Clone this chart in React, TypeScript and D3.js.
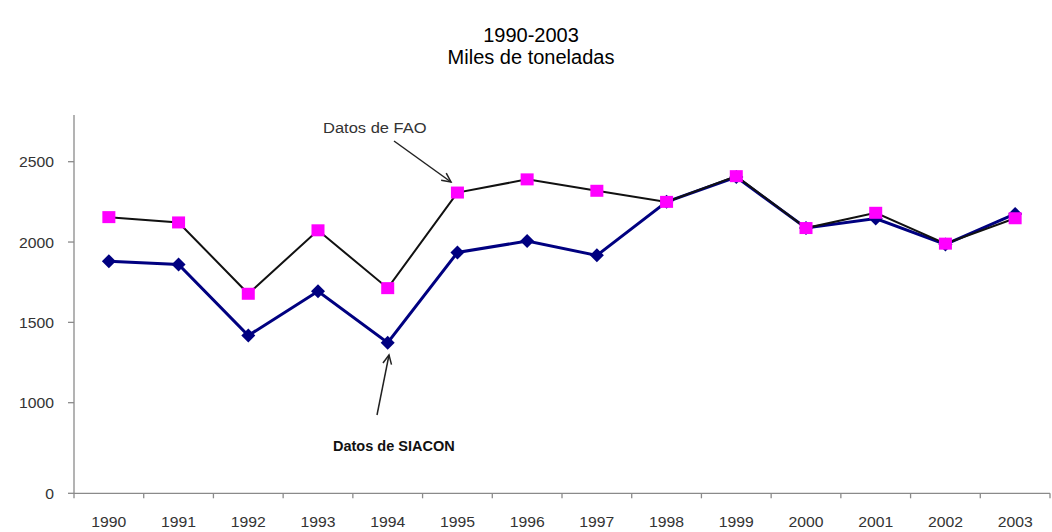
import React from "react";
import * as d3 from "d3";

const years = ["1990","1991","1992","1993","1994","1995","1996","1997","1998","1999","2000","2001","2002","2003"];
const faoValues = [2155, 2122, 1678, 2073, 1713, 2308, 2390, 2319, 2250, 2410, 2087, 2182, 1990, 2148];
const siaconValues = [1880, 1860, 1418, 1694, 1373, 1935, 2006, 1917, 2250, 2405, 2087, 2146, 1985, 2175];
const yTicks = [0, 1000, 1500, 2000, 2500];
const titleLines = ["1990-2003", "Miles de toneladas"];
const faoLabel = "Datos de FAO";
const siaconLabel = "Datos de SIACON";

const W = 1052;
const H = 532;
const FONT = "Arial, 'Liberation Sans', Helvetica, sans-serif";

export default function App() {
  const x = d3.scaleBand<string>().domain(years).range([74, 1050]).padding(0);
  const cx = (d: string) => (x(d) as number) + x.bandwidth() / 2;
  // broken value axis: 0 sits close under 1000
  const y = d3.scaleLinear().domain([0, 1000, 2500]).range([493.3, 402.7, 161.7]);

  const lineGen = d3
    .line<number>()
    .x((_, i) => cx(years[i]))
    .y((v) => y(v));

  const axisColor = "#8a8a8a";
  const boundaries = years.map((d) => x(d) as number).concat([1050]);

  const arrow = (x1: number, y1: number, x2: number, y2: number) => {
    const ang = Math.atan2(y2 - y1, x2 - x1);
    const L = 10;
    const a1 = ang + Math.PI - 0.45;
    const a2 = ang + Math.PI + 0.45;
    return (
      <g stroke="#222" strokeWidth={1.5} fill="none">
        <line x1={x1} y1={y1} x2={x2} y2={y2} />
        <polyline
          points={`${x2 + L * Math.cos(a1)},${y2 + L * Math.sin(a1)} ${x2},${y2} ${x2 + L * Math.cos(a2)},${y2 + L * Math.sin(a2)}`}
        />
      </g>
    );
  };

  return (
    <div style={{ position: "absolute", left: 0, top: 0 }}>
      <svg width={W} height={H} style={{ display: "block", background: "#fff" }} fontFamily={FONT}>
        {/* title */}
        <text x={531} y={42} textAnchor="middle" fontSize={20} fill="#000">
          {titleLines[0]}
        </text>
        <text x={531} y={64} textAnchor="middle" fontSize={20} fill="#000">
          {titleLines[1]}
        </text>

        {/* y axis */}
        <line x1={74} x2={74} y1={y(2790)} y2={y(0)} stroke={axisColor} strokeWidth={1.3} />
        {yTicks.map((t) => (
          <g key={t}>
            <line x1={68} x2={74} y1={y(t)} y2={y(t)} stroke={axisColor} strokeWidth={1.3} />
            <text
              transform={`translate(54,${y(t) + 5.5}) scale(1.05,1)`}
              textAnchor="end"
              fontSize={15}
              fill="#333"
            >
              {t}
            </text>
          </g>
        ))}

        {/* x axis */}
        <line x1={74} x2={1050} y1={y(0)} y2={y(0)} stroke={axisColor} strokeWidth={1.3} />
        {boundaries.map((b, i) => (
          <line key={i} x1={b} x2={b} y1={y(0)} y2={y(0) + 5} stroke={axisColor} strokeWidth={1.3} />
        ))}
        {years.map((d) => (
          <text
            key={d}
            transform={`translate(${cx(d)},527) scale(1.05,1)`}
            textAnchor="middle"
            fontSize={15}
            fill="#333"
          >
            {d}
          </text>
        ))}

        {/* SIACON series */}
        <path d={lineGen(siaconValues) || ""} fill="none" stroke="#000080" strokeWidth={3} />
        {siaconValues.map((v, i) => {
          const px = cx(years[i]);
          const py = y(v);
          return (
            <polygon
              key={i}
              points={`${px},${py - 7} ${px + 7},${py} ${px},${py + 7} ${px - 7},${py}`}
              fill="#000080"
            />
          );
        })}

        {/* FAO series */}
        <path d={lineGen(faoValues) || ""} fill="none" stroke="#111" strokeWidth={2} />
        {faoValues.map((v, i) => {
          const px = cx(years[i]);
          const py = y(v);
          return <rect key={i} x={px - 6.5} y={py - 6} width={13} height={12} fill="#ff00ff" />;
        })}

        {/* annotations */}
        <text transform="translate(323,133) scale(1.1,1)" fontSize={15} fill="#333">
          {faoLabel}
        </text>
        {arrow(394, 141, 451, 182)}

        <text x={333} y={451} fontSize={14.5} fontWeight="bold" fill="#111">
          {siaconLabel}
        </text>
        {arrow(377, 415, 389, 355)}
      </svg>
    </div>
  );
}
